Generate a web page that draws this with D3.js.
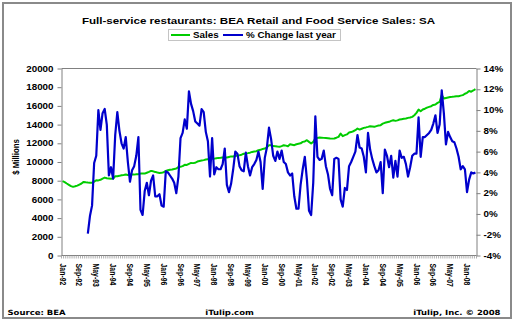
<!DOCTYPE html>
<html>
<head>
<meta charset="utf-8">
<script src="https://cdn.jsdelivr.net/npm/d3@7"></script>
<style>
  body { margin: 0; background: #fff; }
  svg { display: block; }
  text { font-family: "Liberation Sans", Arial, sans-serif; font-weight: bold; fill: #000; }
</style>
</head>
<body>
<svg id="chart" width="515" height="322"></svg>
<script>
// Monthly full-service restaurant sales ($ millions, SA), Jan-92 .. May-08
const sales = [
  7950, 7850, 7700, 7560, 7420, 7340, 7400, 7470, 7590, 7700, 7870, 7830,
  7800, 7790, 7770, 7900, 8050, 8030, 8100, 8230, 8330, 8260, 8230, 8200,
  8240, 8480, 8470, 8520, 8590, 8620, 8660, 8600, 8640, 8660, 8650, 8680,
  8700, 8760, 8770, 8760, 8850, 8940, 9050, 9000, 8940, 8870, 8830, 8840,
  8900, 9050, 9120, 9180, 9200, 9260, 9300, 9470, 9500, 9560, 9700, 9680,
  9800, 9900, 9880, 9920, 10050, 10100, 10150, 10200, 10260, 10300, 10330, 10370,
  10360, 10400, 10440, 10450, 10470, 10490, 10480, 10540, 10600, 10580, 10650, 10700,
  10730, 10780, 10880, 10910, 10950, 11000, 11080, 11120, 11150, 11260, 11300, 11400,
  11440, 11560, 11800, 11780, 11700, 11690, 11650, 11620, 11700, 11800, 11750, 11690,
  11900, 11850, 11800, 11900, 11950, 12000, 12150, 12200, 12330, 12150, 11980, 12150,
  12510, 12580, 12620, 12600, 12580, 12560, 12540, 12510, 12500, 12520, 12600, 12690,
  13040, 12760, 12870, 12950, 13150, 13200, 13290, 13400, 13580, 13470, 13560, 13650,
  13700, 13760, 13830, 13800, 13760, 13840, 13900, 13940, 14100, 14190, 14250, 14300,
  14400, 14470, 14400, 14450, 14540, 14580, 14620, 14650, 14720, 14760, 14830, 15000,
  15250, 15600, 15430, 15610, 15700, 15820, 15900, 15970, 16100, 16150, 16320, 16430,
  17150, 16790, 16850, 16900, 16950, 16970, 17000, 17040, 17040, 17100, 17150, 17300,
  17400, 17600, 17520, 17650, 17800
];

// Year-over-year % change, starting Jan-93
const pctStart = "Jan-93";
const pctChange = [
  -1.9, -0.2, 0.8, 4.9, 5.6, 10.0, 8.1, 9.7, 10.1, 8.6, 3.7, 4.5,
  3.4, 7.6, 9.8, 8.0, 6.8, 6.3, 7.4, 5.0, 3.1, 4.2, 4.6, 5.6,
  7.4, 0.4, -0.1, 2.2, 3.0, 1.8, 3.2, 3.7, 1.7, 1.7, 1.9, 0.8,
  0.7, 4.1, 4.0, 3.7, 3.4, 3.0, 2.0, 3.6, 7.3, 7.8, 9.1, 8.2,
  11.8, 10.6, 9.9, 8.9, 8.7, 8.5, 10.1, 9.8, 7.9, 7.0, 3.6, 7.3,
  3.8, 4.5, 4.3, 4.3, 4.8, 6.3, 2.8, 2.1, 2.9, 4.3, 6.0, 5.8,
  4.6, 4.2, 4.1, 5.9, 4.6, 3.7, 4.5, 4.8, 5.2, 6.0, 5.0, 2.4,
  5.4, 6.4, 8.3, 7.2, 5.6, 5.1, 6.0, 5.3, 6.1, 5.0, 4.8, 4.0,
  3.7, 3.9, 1.7, 0.5, 0.5, 2.8, 4.3, 5.5, 3.3, 0.3, -0.1, 3.0,
  9.4, 5.5, 5.2, 5.3, 6.1, 4.6, 3.8, 2.4, 1.8, 5.3, 5.4, 5.3,
  1.4, 0.7, 2.5, 2.3, 4.6, 5.0, 5.5, 6.0, 7.6, 6.4, 6.3, 5.5,
  4.0, 7.8, 6.2, 5.3, 4.6, 4.0, 4.2, 5.0, 2.0, 6.2, 5.6, 4.5,
  5.6, 3.5, 5.1, 3.6, 6.1, 5.4, 5.5, 4.8, 3.6, 4.5, 5.6, 5.8,
  5.8, 9.3, 5.5, 7.4, 7.4, 7.6, 7.8, 8.1, 8.7, 9.5, 7.8, 8.6,
  11.9, 9.7, 6.7, 7.9, 7.4, 7.0, 6.9, 6.3, 5.5, 4.3, 4.6, 4.3,
  2.1, 3.3, 4.0, 3.9, 4.0
];

const xTickLabels = [
  "Jan-92", "Sep-92", "May-93", "Jan-94", "Sep-94", "May-95", "Jan-96", "Sep-96",
  "May-97", "Jan-98", "Sep-98", "May-99", "Jan-00", "Sep-00", "May-01", "Jan-02",
  "Sep-02", "May-03", "Jan-04", "Sep-04", "May-05", "Jan-06", "Sep-06", "May-07", "Jan-08"
];
const salesTicks = [0, 2000, 4000, 6000, 8000, 10000, 12000, 14000, 16000, 18000, 20000];
const pctTicks = [-4, -2, 0, 2, 4, 6, 8, 10, 12, 14];

const title = "Full-service restaurants: BEA Retail and Food Service Sales: SA";
const seriesNames = ["Sales", "% Change last year"];
const colors = { sales: "#00cc00", pct: "#0000cc", grid: "#808080" };

// Category labels, one per month of the sales series
const fmt = d3.timeFormat("%b-%y");
const months = d3.timeMonth.range(new Date(1992, 0, 1), new Date(1992, sales.length, 1)).map(fmt);

const plot = { left: 61.5, right: 476.5, top: 68.5, bottom: 255.5 };
const svg = d3.select("#chart");

// Outer frame
svg.append("rect").attr("x", 3).attr("y", 3).attr("width", 508).attr("height", 315)
  .attr("fill", "#fff").attr("stroke", "#8a8a8a").attr("stroke-width", 2);

const x = d3.scalePoint().domain(months).range([plot.left, plot.right]).padding(0.5);
const yL = d3.scaleLinear().domain([0, 20000]).range([plot.bottom, plot.top]);
const yR = d3.scaleLinear().domain([-4, 14]).range([plot.bottom, plot.top]);
const step = x.step();

const squash = "scale(1,0.84)";

// Title
svg.append("text").attr("transform", `translate(258.5,23.5) ${squash}`)
  .attr("text-anchor", "middle").style("font-size", "11.6px").text(title);

// Legend
const lg = svg.append("g");
lg.append("rect").attr("x", 168.5).attr("y", 29.5).attr("width", 172).attr("height", 11)
  .attr("fill", "#fff").attr("stroke", "#c4c4c4");
const legendItems = [
  { name: seriesNames[0], color: colors.sales, x1: 171, x2: 190, tx: 193 },
  { name: seriesNames[1], color: colors.pct, x1: 223, x2: 243, tx: 246 }
];
legendItems.forEach(d => {
  lg.append("line").attr("x1", d.x1).attr("x2", d.x2).attr("y1", 35).attr("y2", 35)
    .attr("stroke", d.color).attr("stroke-width", 2);
  lg.append("text").attr("transform", `translate(${d.tx},37.8) ${squash}`)
    .style("font-size", "9.8px").text(d.name);
});

// Plot frame top line
svg.append("line").attr("x1", plot.left).attr("x2", plot.right)
  .attr("y1", plot.top).attr("y2", plot.top).attr("stroke", colors.grid);

// Left axis
const gL = svg.append("g").attr("transform", `translate(${plot.left},0)`)
  .call(d3.axisLeft(yL).tickValues(salesTicks).tickSize(4).tickSizeOuter(0).tickPadding(4).tickFormat(d3.format("d")));
gL.select(".domain").attr("stroke", colors.grid);
gL.selectAll(".tick line").attr("stroke", colors.grid);
gL.selectAll(".tick text").style("font-size", "9.8px").attr("font-family", null)
  .attr("transform", squash);

// Right axis
const gR = svg.append("g").attr("transform", `translate(${plot.right},0)`)
  .call(d3.axisRight(yR).tickValues(pctTicks).tickSize(4).tickSizeOuter(0).tickPadding(3).tickFormat(d => d + "%"));
gR.select(".domain").attr("stroke", colors.grid);
gR.selectAll(".tick line").attr("stroke", colors.grid);
gR.selectAll(".tick text").style("font-size", "9.8px").attr("transform", squash);

// Bottom axis: boundary ticks between months
const gB = svg.append("g").attr("transform", `translate(0,${plot.bottom})`);
gB.append("line").attr("x1", plot.left).attr("x2", plot.right).attr("stroke", colors.grid);
gB.selectAll("line.mt").data(months.concat(["end"])).join("line").attr("class", "mt")
  .attr("x1", (d, i) => i < months.length ? x(d) - step / 2 : x(months[months.length - 1]) + step / 2)
  .attr("x2", (d, i) => i < months.length ? x(d) - step / 2 : x(months[months.length - 1]) + step / 2)
  .attr("y1", 0).attr("y2", 3).attr("stroke", "#9a9a9a").attr("stroke-width", 0.8);

const gX = svg.append("g").attr("transform", `translate(0,${plot.bottom})`)
  .call(d3.axisBottom(x).tickValues(xTickLabels).tickSize(0).tickPadding(0));
gX.select(".domain").remove();
gX.selectAll(".tick text")
  .attr("y", 0).attr("x", 0).attr("dy", "0.36em").attr("text-anchor", "start")
  .attr("transform", "translate(0,8) rotate(90) scale(0.72,1)")
  .style("font-size", "9.6px");

// Y axis title
svg.append("text").attr("transform", "translate(19,157) rotate(-90) scale(0.8,1)")
  .attr("text-anchor", "middle").style("font-size", "9.8px").text("$ Millions");

// Series lines
const salesLine = d3.line().x((d, i) => x(months[i])).y(d => yL(d));
svg.append("path").datum(sales).attr("d", salesLine)
  .attr("fill", "none").attr("stroke", colors.sales).attr("stroke-width", 2).attr("stroke-linejoin", "round");

const pctOffset = months.indexOf(pctStart);
const pctLine = d3.line().x((d, i) => x(months[i + pctOffset])).y(d => yR(d));
svg.append("path").datum(pctChange).attr("d", pctLine)
  .attr("fill", "none").attr("stroke", colors.pct).attr("stroke-width", 2.2).attr("stroke-linejoin", "round");

// Footer
const footer = [
  { t: "Source: BEA", x: 7.5, anchor: "start" },
  { t: "iTulip.com", x: 229.5, anchor: "middle" },
  { t: "iTulip, Inc. \u00a9 2008", x: 500.5, anchor: "end" }
];
svg.selectAll("text.footer").data(footer).join("text").attr("class", "footer")
  .attr("transform", d => `translate(${d.x},315) ${squash}`)
  .attr("text-anchor", d => d.anchor)
  .style("font-family", "'DejaVu Sans', Verdana, sans-serif")
  .style("font-size", "8.5px").text(d => d.t);
</script>
</body>
</html>
